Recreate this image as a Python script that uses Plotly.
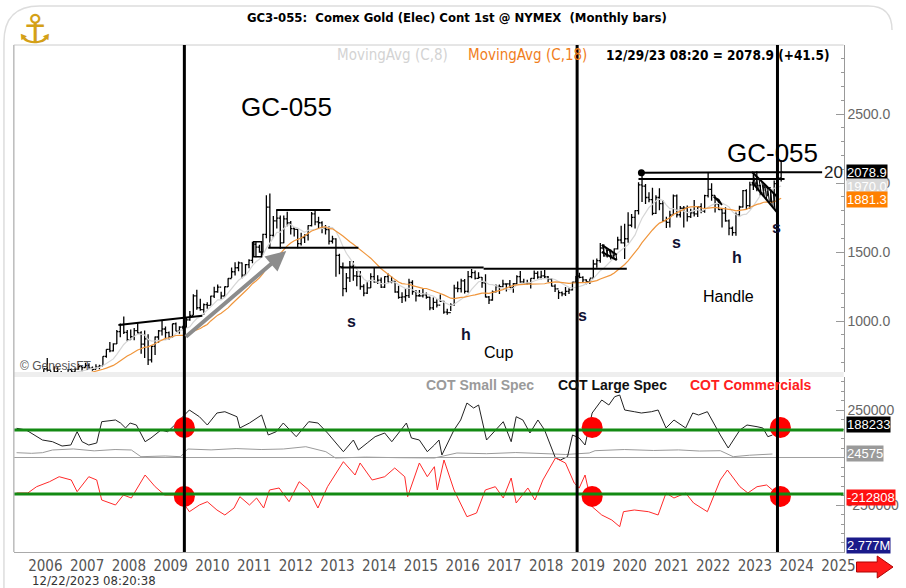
import numpy as np
import pandas as pd
import plotly.graph_objects as go

W, H = 906, 588
def px(x): return x / W
def py(y): return 1 - y / H

NARROW = "Liberation Sans Narrow, Arial Narrow, DejaVu Sans Condensed, sans-serif"
SANS = "Liberation Sans, Arial, sans-serif"

# ---------------- monthly gold bars (Jul 2005 .. Dec 2023) ----------------
close_2005 = [430, 434, 470, 470, 495, 518]
close_2006 = [569, 556, 583, 654, 643, 616, 633, 626, 599, 604, 648, 632]
close_2007 = [651, 669, 663, 679, 659, 650, 666, 673, 743, 795, 783, 834]
close_2008 = [923, 972, 917, 865, 886, 930, 913, 833, 871, 718, 816, 884]
close_2009 = [928, 942, 916, 884, 980, 927, 955, 955, 1008, 1040, 1182, 1096]
close_2010 = [1082, 1118, 1113, 1180, 1212, 1245, 1181, 1248, 1308, 1357, 1386, 1421]
close_2011 = [1332, 1409, 1439, 1556, 1536, 1500, 1628, 1825, 1620, 1725, 1746, 1566]
close_2012 = [1740, 1711, 1669, 1664, 1561, 1604, 1622, 1691, 1776, 1719, 1712, 1675]
close_2013 = [1663, 1578, 1595, 1476, 1393, 1234, 1312, 1396, 1327, 1323, 1250, 1202]
close_2014 = [1240, 1321, 1283, 1296, 1246, 1322, 1282, 1287, 1210, 1171, 1175, 1184]
close_2015 = [1279, 1213, 1183, 1182, 1190, 1172, 1095, 1135, 1115, 1142, 1064, 1061]
close_2016 = [1118, 1238, 1234, 1291, 1215, 1322, 1350, 1309, 1316, 1277, 1174, 1152]
close_2017 = [1211, 1250, 1249, 1268, 1269, 1242, 1270, 1322, 1284, 1271, 1275, 1309]
close_2018 = [1345, 1318, 1327, 1319, 1303, 1253, 1233, 1206, 1196, 1215, 1226, 1282]
close_2019 = [1325, 1316, 1298, 1286, 1311, 1413, 1437, 1529, 1472, 1514, 1472, 1523]
close_2020 = [1587, 1566, 1596, 1694, 1751, 1800, 1986, 1978, 1895, 1879, 1780, 1895]
close_2021 = [1850, 1728, 1715, 1768, 1907, 1770, 1817, 1818, 1757, 1784, 1776, 1828]
close_2022 = [1797, 1909, 1954, 1911, 1848, 1807, 1782, 1726, 1672, 1640, 1768, 1826]
close_2023 = [1945, 1836, 1986, 1999, 1982, 1929, 1970, 1966, 1866, 1996, 2037.4, 2078.9]

high_2005 = [440, 448, 476, 480, 498, 541]
high_2006 = [575, 577, 592, 654, 732, 640, 672, 665, 637, 612, 652, 646]
high_2007 = [657, 690, 670, 697, 694, 670, 686, 683, 745, 796, 847, 838]
high_2008 = [934, 981, 1033, 934, 939, 950, 988, 925, 932, 904, 825, 887]
high_2009 = [935, 1007, 960, 923, 980, 989, 962, 965, 1022, 1072, 1194, 1227]
high_2010 = [1162, 1127, 1135, 1183, 1249, 1265, 1212, 1250, 1310, 1388, 1425, 1432]
high_2011 = [1424, 1413, 1448, 1575, 1578, 1552, 1632, 1912, 1923, 1761, 1804, 1765]
high_2012 = [1764, 1792, 1724, 1681, 1667, 1640, 1629, 1693, 1790, 1798, 1755, 1723]
high_2013 = [1696, 1686, 1617, 1600, 1488, 1424, 1348, 1434, 1434, 1362, 1362, 1267]
high_2014 = [1280, 1346, 1392, 1331, 1315, 1325, 1345, 1323, 1290, 1255, 1208, 1239]
high_2015 = [1307, 1296, 1224, 1224, 1232, 1206, 1175, 1170, 1157, 1192, 1147, 1088]
high_2016 = [1128, 1263, 1287, 1306, 1305, 1363, 1377, 1366, 1353, 1318, 1338, 1181]
high_2017 = [1221, 1264, 1264, 1298, 1273, 1297, 1275, 1331, 1362, 1306, 1299, 1309]
high_2018 = [1366, 1361, 1365, 1369, 1326, 1309, 1266, 1223, 1214, 1246, 1237, 1285]
high_2019 = [1326, 1349, 1325, 1303, 1306, 1443, 1453, 1566, 1557, 1518, 1518, 1526]
high_2020 = [1611, 1691, 1704, 1788, 1775, 1802, 2005, 2089, 1992, 1933, 1966, 1911]
high_2021 = [1962, 1875, 1756, 1798, 1917, 1916, 1834, 1833, 1837, 1813, 1877, 1831]
high_2022 = [1854, 1915, 2079, 1999, 1910, 1880, 1818, 1824, 1735, 1684, 1786, 1835]
high_2023 = [1950, 1955, 2009, 2063, 2085, 1985, 1990, 1979, 1953, 2019, 2075, 2152]

low_2005 = [418, 428, 432, 456, 460, 490]
low_2006 = [518, 538, 536, 582, 634, 543, 603, 607, 573, 562, 600, 612]
low_2007 = [606, 647, 636, 663, 654, 640, 650, 651, 674, 733, 774, 779]
low_2008 = [834, 883, 905, 853, 864, 861, 910, 763, 731, 681, 700, 754]
low_2009 = [843, 894, 865, 865, 879, 926, 907, 933, 949, 1002, 1041, 1081]
low_2010 = [1074, 1045, 1089, 1116, 1166, 1205, 1157, 1175, 1246, 1312, 1330, 1360]
low_2011 = [1309, 1331, 1382, 1418, 1462, 1495, 1478, 1600, 1535, 1604, 1670, 1523]
low_2012 = [1563, 1686, 1626, 1613, 1527, 1547, 1565, 1583, 1685, 1694, 1672, 1636]
low_2013 = [1626, 1555, 1562, 1321, 1338, 1180, 1208, 1282, 1292, 1251, 1227, 1180]
low_2014 = [1195, 1240, 1277, 1268, 1240, 1240, 1281, 1273, 1205, 1161, 1131, 1142]
low_2015 = [1167, 1190, 1142, 1175, 1170, 1162, 1077, 1080, 1098, 1137, 1052, 1046]
low_2016 = [1072, 1111, 1208, 1206, 1199, 1205, 1310, 1301, 1306, 1241, 1171, 1124]
low_2017 = [1147, 1206, 1195, 1244, 1214, 1241, 1205, 1266, 1277, 1260, 1265, 1236]
low_2018 = [1303, 1307, 1303, 1310, 1282, 1250, 1211, 1160, 1180, 1182, 1196, 1221]
low_2019 = [1276, 1309, 1281, 1266, 1268, 1310, 1385, 1422, 1466, 1461, 1445, 1462]
low_2020 = [1518, 1562, 1450, 1567, 1680, 1671, 1771, 1863, 1848, 1860, 1767, 1775]
low_2021 = [1802, 1717, 1673, 1677, 1770, 1750, 1750, 1677, 1721, 1746, 1758, 1753]
low_2022 = [1780, 1785, 1895, 1872, 1787, 1805, 1678, 1719, 1622, 1618, 1617, 1756]
low_2023 = [1822, 1808, 1813, 1950, 1940, 1908, 1902, 1904, 1853, 1823, 1932, 2010]

close = (close_2005 + close_2006 + close_2007 + close_2008 + close_2009 + close_2010 +
         close_2011 + close_2012 + close_2013 + close_2014 + close_2015 + close_2016 +
         close_2017 + close_2018 + close_2019 + close_2020 + close_2021 + close_2022 + close_2023)
high = (high_2005 + high_2006 + high_2007 + high_2008 + high_2009 + high_2010 +
        high_2011 + high_2012 + high_2013 + high_2014 + high_2015 + high_2016 +
        high_2017 + high_2018 + high_2019 + high_2020 + high_2021 + high_2022 + high_2023)
low = (low_2005 + low_2006 + low_2007 + low_2008 + low_2009 + low_2010 +
       low_2011 + low_2012 + low_2013 + low_2014 + low_2015 + low_2016 +
       low_2017 + low_2018 + low_2019 + low_2020 + low_2021 + low_2022 + low_2023)
first_open = 425
open_ = [first_open] + close[:-1]

months = pd.date_range("2005-07-01", periods=len(close), freq="MS")
tm = np.array(months.year + (months.month - 0.5) / 12.0)
ma8 = pd.Series(close).rolling(8).mean()
ma18 = pd.Series(close).rolling(18).mean()

# ---------------- COT positions (thousands of contracts), (decimal year, value) ----------------
large_spec = [(2005.64,153.7),(2005.87,144.7),(2006.26,92.1),(2006.50,83.2),(2006.73,60.5),(2006.94,65.8),
    (2007.09,135.8),(2007.21,83.2),(2007.37,65.8),(2007.56,76.3),(2007.68,188.4),(2008.01,197.4),
    (2008.13,181.6),(2008.25,155.3),(2008.36,181.6),(2008.51,171.0),(2008.72,83.2),(2008.86,102.6),
    (2009.10,144.7),(2009.26,135.8),(2009.43,171.0),(2009.78,250.0),(2010.02,214.7),(2010.21,171.0),
    (2010.44,234.2),(2010.63,241.0),(2010.92,214.7),(2010.99,155.3),(2011.22,181.6),(2011.51,223.7),
    (2011.67,118.4),(2011.86,135.8),(2012.03,181.6),(2012.34,109.5),(2012.64,188.4),(2012.86,181.6),
    (2013.09,128.9),(2013.47,30.5),(2013.71,92.1),(2013.83,39.5),(2014.04,76.3),(2014.23,109.5),
    (2014.46,128.9),(2014.63,83.2),(2014.98,181.6),(2015.10,102.6),(2015.29,92.1),(2015.48,30.5),
    (2015.65,65.8),(2015.76,92.1),(2015.83,13.2),(2016.12,144.7),(2016.28,197.4),(2016.43,286.8),
    (2016.59,260.5),(2016.71,276.3),(2016.90,92.1),(2017.11,144.7),(2017.30,188.4),(2017.49,83.2),
    (2017.61,214.7),(2017.77,197.4),(2017.94,128.9),(2018.13,197.4),(2018.29,144.7),(2018.55,-2.6),
    (2018.67,-13.2),(2018.84,4.2),(2018.96,118.4),(2019.12,102.6),(2019.26,65.8),(2019.43,234.2),
    (2019.66,302.6),(2019.83,276.3),(2019.97,320.0),(2020.09,328.9),(2020.21,250.0),(2020.44,241.0),
    (2020.61,234.2),(2020.85,241.0),(2021.01,250.0),(2021.20,155.3),(2021.39,197.4),(2021.67,155.3),
    (2021.84,234.2),(2021.98,223.7),(2022.19,241.0),(2022.50,118.4),(2022.69,50.0),(2022.97,144.7),
    (2023.14,171.0),(2023.38,162.1),(2023.52,155.3),(2023.64,109.5),(2023.75,118.4)]
small_spec = [(2005.64,25.3),(2006.00,22.0),(2006.26,25.3),(2006.50,39.5),(2007.00,45.0),(2007.50,35.0),
    (2008.00,42.0),(2008.39,39.5),(2008.62,4.2),(2009.20,8.0),(2009.57,4.2),(2009.74,44.7),
    (2010.30,40.0),(2010.90,47.0),(2011.50,42.0),(2012.03,44.7),(2012.57,56.8),(2013.05,30.5),
    (2013.28,-2.6),(2014.00,2.0),(2014.80,-1.0),(2015.65,-2.6),(2016.19,23.7),(2016.90,20.0),
    (2017.60,26.0),(2018.30,22.0),(2018.80,16.0),(2019.36,23.7),(2019.50,35.8),(2020.20,42.0),
    (2020.90,37.0),(2021.50,40.0),(2022.00,34.0),(2022.50,35.8),(2022.81,4.2),(2023.20,12.0),
    (2023.75,18.4)]
commercials = [(2005.64,-186.8),(2005.91,-186.8),(2006.12,-153.7),(2006.43,-127.4),(2006.66,-101.1),
    (2006.95,-118.4),(2007.09,-180.0),(2007.37,-101.1),(2007.56,-118.4),(2007.68,-223.7),(2008.01,-250.0),
    (2008.20,-197.4),(2008.39,-213.2),(2008.72,-92.1),(2008.96,-153.7),(2009.19,-197.4),(2009.50,-197.4),
    (2009.78,-285.3),(2010.02,-250.0),(2010.21,-232.6),(2010.44,-276.3),(2010.63,-302.6),(2010.85,-265.8),
    (2010.99,-206.3),(2011.22,-250.0),(2011.39,-213.2),(2011.56,-265.8),(2011.70,-171.0),(2011.93,-160.5),
    (2012.17,-232.6),(2012.41,-127.4),(2012.64,-171.0),(2012.86,-265.8),(2013.09,-153.7),(2013.47,-22.1),
    (2013.75,-92.1),(2013.87,-28.9),(2014.16,-118.4),(2014.46,-101.1),(2014.70,-55.3),(2014.94,-101.1),
    (2015.01,-206.3),(2015.29,-28.9),(2015.48,-101.1),(2015.65,-48.4),(2015.72,-171.0),(2015.88,-13.2),
    (2016.12,-171.0),(2016.43,-311.6),(2016.66,-292.1),(2016.87,-171.0),(2017.11,-153.7),(2017.30,-213.2),
    (2017.49,-107.9),(2017.61,-239.5),(2017.89,-160.5),(2018.06,-223.7),(2018.25,-118.4),(2018.55,-2.6),
    (2018.79,-28.9),(2019.00,-134.2),(2019.12,-160.5),(2019.26,-92.1),(2019.43,-258.9),(2019.66,-302.6),
    (2019.90,-328.9),(2020.09,-364.2),(2020.18,-285.3),(2020.44,-276.3),(2020.78,-285.3),(2021.01,-302.6),
    (2021.20,-186.8),(2021.39,-213.2),(2021.67,-186.8),(2021.86,-239.5),(2022.19,-285.3),(2022.50,-118.4),
    (2022.67,-65.8),(2022.97,-153.7),(2023.16,-186.8),(2023.38,-153.7),(2023.61,-144.7),(2023.75,-171.0)]

green_levels = [145, -192]
signal_dates = [2009.66, 2019.43, 2023.94]
signal_levels = [158, -205]
event_lines = [2009.66, 2019.07, 2023.87]

years = list(range(2006, 2026))

# chart drawings (decimal year, price)
trend_lines = [
    ((2008.08, 971), (2010.09, 1038)),
    ((2011.86, 1804), (2013.16, 1804)),
    ((2011.67, 1531), (2013.83, 1531)),
    ((2013.40, 1387), (2016.83, 1387)),
    ((2016.83, 1378), (2020.26, 1378)),
    ((2020.61, 2075), (2024.94, 2078)),
    ((2020.54, 2029), (2024.04, 2029)),
]
flag_upper = ((2023.26, 2080), (2023.87, 1899))
flag_lower = ((2023.26, 2007), (2023.85, 1790))
flag2019_upper = ((2019.66, 1551), (2020.02, 1480))
flag2019_lower = ((2019.66, 1500), (2020.02, 1442))

fig = go.Figure()

XD = [px(14), px(855)]
XR = [2005.574, 2025.456]

fig.add_trace(go.Scatter(x=tm, y=ma8, mode="lines", line=dict(color="#d6d6d6", width=1.2),
                         xaxis="x", yaxis="y", hoverinfo="skip"))
fig.add_trace(go.Scatter(x=tm, y=ma18, mode="lines", line=dict(color="#f0963c", width=1.2),
                         xaxis="x", yaxis="y", hoverinfo="skip"))
fig.add_trace(go.Ohlc(x=tm, open=open_, high=high, low=low, close=close, xaxis="x", yaxis="y",
                      increasing=dict(line=dict(color="black", width=1.3)),
                      decreasing=dict(line=dict(color="black", width=1.3)), tickwidth=0.45))

# lower pane
fig.add_trace(go.Scatter(x=[p[0] for p in small_spec], y=[p[1] for p in small_spec], mode="lines",
                         line=dict(color="#9a9a9a", width=1), xaxis="x2", yaxis="y2"))
fig.add_trace(go.Scatter(x=[p[0] for p in large_spec], y=[p[1] for p in large_spec], mode="lines",
                         line=dict(color="#222222", width=1), xaxis="x2", yaxis="y2"))
fig.add_trace(go.Scatter(x=[p[0] for p in commercials], y=[p[1] for p in commercials], mode="lines",
                         line=dict(color="#ff2a2a", width=1), xaxis="x2", yaxis="y2"))

shapes = []
shapes.append(dict(type="line", xref="x2", yref="y2", x0=XR[0], x1=XR[1], y0=0, y1=0,
                   line=dict(color="#a0a0a0", width=1)))
for g in green_levels:
    shapes.append(dict(type="line", xref="x2", yref="y2", x0=XR[0], x1=XR[1], y0=g, y1=g,
                       line=dict(color="#138a13", width=3)))
for (a, b) in trend_lines:
    shapes.append(dict(type="line", xref="x", yref="y", x0=a[0], y0=a[1], x1=b[0], y1=b[1],
                       line=dict(color="black", width=2)))
for up, lo, n in [(flag_upper, flag_lower, 9), (flag2019_upper, flag2019_lower, 5)]:
    for seg in (up, lo):
        shapes.append(dict(type="line", xref="x", yref="y", x0=seg[0][0], y0=seg[0][1],
                           x1=seg[1][0], y1=seg[1][1], line=dict(color="black", width=2)))
    for f in np.linspace(0.05, 0.95, n):
        ux = up[0][0] + f * (up[1][0] - up[0][0]); uy = up[0][1] + f * (up[1][1] - up[0][1])
        g2 = min(f + 0.1, 1.0)
        lx = lo[0][0] + g2 * (lo[1][0] - lo[0][0]); ly = lo[0][1] + g2 * (lo[1][1] - lo[0][1])
        shapes.append(dict(type="line", xref="x", yref="y", x0=ux, y0=uy, x1=lx, y1=ly,
                           line=dict(color="black", width=1)))
shapes.append(dict(type="rect", xref="x", yref="y", x0=2011.32, x1=2011.51, y0=1466, y1=1575,
                   line=dict(color="black", width=1.5)))
shapes.append(dict(type="path", xref="x", yref="y",
                   path="M 2022.34,1901 L 2022.54,1841 L 2022.46,1880 Z", line=dict(color="black", width=1.5)))
fig.add_annotation(x=2012.10, y=1507, ax=2009.66, ay=877, xref="x", yref="y", axref="x", ayref="y",
                   text="", showarrow=True, arrowhead=2, arrowsize=1, arrowwidth=4, arrowcolor="#8c8c8c")
fig.add_trace(go.Scatter(x=[2020.61], y=[2075], mode="markers", marker=dict(color="black", size=7),
                         xaxis="x", yaxis="y"))

# pane decorations
shapes.append(dict(type="rect", xref="paper", yref="paper", x0=px(14), x1=px(855), y0=py(377), y1=py(372),
                   fillcolor="#eeeeee", line=dict(width=0), layer="below"))
shapes.append(dict(type="line", xref="paper", yref="paper", x0=px(14), x1=px(855), y0=py(45), y1=py(45),
                   line=dict(color="#cccccc", width=1)))
shapes.append(dict(type="line", xref="paper", yref="paper", x0=px(14), x1=px(14), y0=py(552), y1=py(45),
                   line=dict(color="#bbbbbb", width=1.5)))
frame = (f"M {px(4)},{py(588)} L {px(4)},{py(42)} Q {px(4)},{py(6)} {px(40)},{py(6)} "
         f"L {px(880)},{py(6)} Q {px(904)},{py(6)} {px(904)},{py(30)}")
shapes.append(dict(type="path", xref="paper", yref="paper", path=frame, line=dict(color="#dddddd", width=1.5)))
for e in event_lines:
    shapes.append(dict(type="line", xref="x", yref="paper", x0=e, x1=e, y0=py(552), y1=py(45),
                       line=dict(color="black", width=3)))
arrow = (f"M {px(868)},{py(562)} L {px(889)},{py(562)} L {px(889)},{py(556)} L {px(905)},{py(567)} "
         f"L {px(889)},{py(578)} L {px(889)},{py(572)} L {px(868)},{py(572)} Z")
shapes.append(dict(type="path", xref="paper", yref="paper", path=arrow, fillcolor="#ff1a1a",
                   line=dict(color="#b00000", width=1)))

for lvl in signal_levels:
    fig.add_trace(go.Scatter(x=signal_dates, y=[lvl] * len(signal_dates), mode="markers",
                             marker=dict(color="#ff0000", size=21), xaxis="x2", yaxis="y2"))

ann = []
def txt(x, y, t, size, color="black", family=NARROW, xanchor="center", bold=False, **kw):
    ann.append(dict(x=px(x), y=py(y), xref="paper", yref="paper", text=(f"<b>{t}</b>" if bold else t),
                    showarrow=False, xanchor=xanchor, yanchor="middle",
                    font=dict(size=size, color=color, family=family), **kw))

txt(462, 37, "www.TradeNavigator.com © 1999-2023", 15)
txt(340, 55, "MovingAvg (C,8)", 15, color="#d3d3d3", xanchor="left")
txt(472, 55, "MovingAvg (C,18)", 15, color="#f07e1c", xanchor="left")
txt(612, 55, "12/29/23 08:20 = 2078.9 (+41.5)", 13.5, xanchor="left", bold=True)
txt(35, 29, "⚓", 40, color="#d4a017", family="DejaVu Sans")
txt(18, 366, "© GenesisFT", 12, color="#555555", family=SANS, xanchor="left")
txt(430, 385, "COT Small Spec", 14, color="#9a9a9a", family=SANS, xanchor="left", bold=True)
txt(563, 385, "COT Large Spec", 14, color="#111111", family=SANS, xanchor="left", bold=True)
txt(697, 385, "COT Commercials", 14, color="#ff2020", family=SANS, xanchor="left", bold=True)
txt(30, 580, "12/22/2023 08:20:38", 13, color="#333333", xanchor="left")
txt(856, 172, "20", 17, color="#222222", family=SANS, xanchor="right")

def box(y, t, bg, fg="white"):
    ann.append(dict(x=px(857), y=py(y), xref="paper", yref="paper", text=t, showarrow=False,
                    xanchor="left", yanchor="middle", bgcolor=bg, borderpad=0,
                    font=dict(size=13, color=fg, family=SANS)))
box(172, "2078.9", "#000000")
box(186, "1970.0", "#d9d9d9")
box(200, "1881.3", "#ff8000")
box(424, "188233", "#000000")
box(453, "24575", "#9a9a9a")
box(497, "-212808", "#ff1010")
box(545, "2.777M", "#1a1a8a")

def dlabel(t, p, s, size, bold=False, family=SANS, color="black"):
    ann.append(dict(x=t, y=p, xref="x", yref="y", text=(f"<b>{s}</b>" if bold else s), showarrow=False,
                    font=dict(size=size, color=color, family=family)))
dlabel(2012.10, 2551, "GC-055", 26)
dlabel(2023.75, 2217, "GC-055", 26)
dlabel(2013.66, 1000, "s", 16, bold=True, color="#111133")
dlabel(2016.40, 899, "h", 16, bold=True, color="#111133")
dlabel(2017.18, 775, "Cup", 16)
dlabel(2019.19, 1043, "s", 16, bold=True, color="#111133")
dlabel(2021.44, 1572, "s", 16, bold=True, color="#111133")
dlabel(2022.90, 1457, "h", 16, bold=True, color="#111133")
dlabel(2022.69, 1174, "Handle", 16)
dlabel(2023.85, 1681, "s", 16, bold=True, color="#111133")

axis_font = dict(size=14, color="#666666", family=SANS)
fig.update_layout(
    width=W, height=H, margin=dict(l=0, r=0, t=0, b=0),
    paper_bgcolor="white", plot_bgcolor="white", showlegend=False,
    title=dict(text="<b>GC3-055:  Comex Gold (Elec) Cont 1st @ NYMEX  (Monthly bars)</b>",
               x=px(463), y=py(17), xref="paper", yref="paper", xanchor="center", yanchor="middle",
               font=dict(size=13, color="black", family=NARROW)),
    shapes=shapes, annotations=ann,
    xaxis=dict(domain=XD, range=XR, anchor="y", showticklabels=False, showgrid=False, zeroline=False,
               rangeslider=dict(visible=False)),
    xaxis2=dict(domain=XD, range=XR, anchor="y2", matches="x", showgrid=False, zeroline=False,
                tickvals=[y + 0.33 for y in years], ticktext=[str(y) for y in years], ticks="",
                tickfont=dict(size=15, color="#555555", family=NARROW),
                showline=True, linecolor="#aaaaaa", linewidth=1),
    yaxis=dict(domain=[py(372), py(45)], range=[630.4, 3000], anchor="x", side="right",
               tickvals=[1000, 1500, 2000, 2500], ticktext=["1000.0", "1500.0", "2000.0", "2500.0"],
               ticks="inside", ticklen=8, tickcolor="#999999",
               minor=dict(dtick=100, ticks="inside", ticklen=3, tickcolor="#999999"),
               showline=True, linecolor="#999999", showgrid=False, zeroline=False, tickfont=axis_font),
    yaxis2=dict(domain=[py(552), py(377)], range=[-497.4, 423.7], anchor="x2", side="right",
                tickvals=[250, -250], ticktext=["250000", "-250000"],
                ticks="inside", ticklen=8, tickcolor="#999999",
                minor=dict(dtick=50, ticks="inside", ticklen=3, tickcolor="#999999"),
                showline=True, linecolor="#999999", showgrid=False, zeroline=False, tickfont=axis_font),
)
fig.write_html("out.html", config={"displayModeBar": False},
               post_script="document.body.style.margin='0px';document.body.style.overflow='hidden';")
